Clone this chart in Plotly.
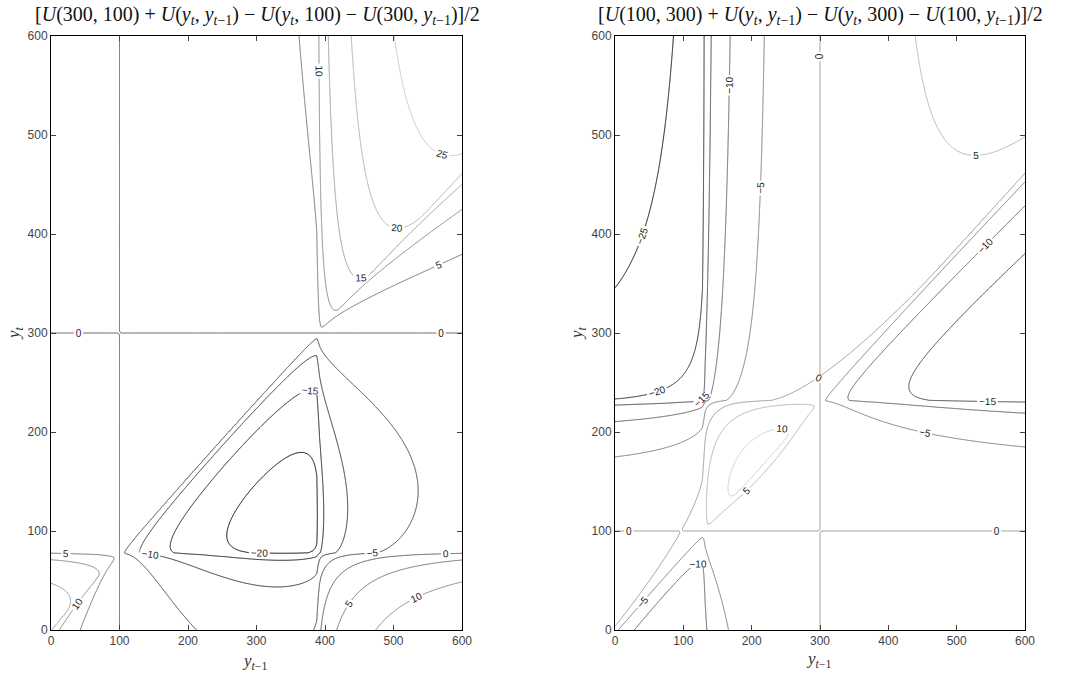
import numpy as np
import plotly.graph_objects as go

# ---- model of U(y_t, y_{t-1}) = v(y_t - HABIT*y_{t-1}) ----
HABIT = 0.77          # reference point = HABIT * y_{t-1}
GAIN_SCALE = 1.17     # v(z) = GAIN_SCALE * z**GAIN_EXP        for z >= 0
GAIN_EXP = 0.6
LOSS_SCALE = 4.4      # v(z) = -LOSS_SCALE * (-z)**LOSS_EXP    for z < 0
LOSS_EXP = 0.5

# ---- panels ----
PANEL_FIXED = [(300, 100), (100, 300)]          # (y_t, y_{t-1}) fixed pair of each panel
PANEL_LEVELS = [(-20, 25), (-25, 10)]           # first / last contour level of each panel
LEVEL_STEP = 5
TICKS = [0, 100, 200, 300, 400, 500, 600]
AXIS_RANGE = [0, 600]
GRID_N = 301
GRAY_MAX = 215

TITLES = [
    "[<i>U</i>(300, 100) + <i>U</i>(<i>y<sub>t</sub></i>, <i>y</i><sub><i>t</i>−1</sub>) − "
    "<i>U</i>(<i>y<sub>t</sub></i>, 100) − <i>U</i>(300, <i>y</i><sub><i>t</i>−1</sub>)]/2",
    "[<i>U</i>(100, 300) + <i>U</i>(<i>y<sub>t</sub></i>, <i>y</i><sub><i>t</i>−1</sub>) − "
    "<i>U</i>(<i>y<sub>t</sub></i>, 300) − <i>U</i>(100, <i>y</i><sub><i>t</i>−1</sub>)]/2",
]


def v(z):
    z = np.asarray(z, dtype=float)
    return np.where(z >= 0, GAIN_SCALE * np.abs(z) ** GAIN_EXP,
                    -LOSS_SCALE * np.abs(z) ** LOSS_EXP)


def U(y, yprev):
    return v(np.asarray(y, float) - HABIT * np.asarray(yprev, float))


def cross_diff(a, b, yt, ytm1):
    return (U(a, b) + U(yt, ytm1) - U(yt, b) - U(a, ytm1)) / 2.0


grid = np.linspace(AXIS_RANGE[0], AXIS_RANGE[1], GRID_N)
XX, YY = np.meshgrid(grid, grid)

fig = go.Figure()
for k, ((a, b), (lo, hi)) in enumerate(zip(PANEL_FIXED, PANEL_LEVELS)):
    Z = np.round(cross_diff(a, b, YY, XX), 4)
    zmin, zmax = float(Z.min()), float(Z.max())

    def gray(level):
        g = int(round(GRAY_MAX * (level - zmin) / (zmax - zmin)))
        return f"rgb({g},{g},{g})"

    suffix = "" if k == 0 else "2"
    fig.add_trace(go.Contour(
        x=grid, y=grid, z=Z,
        xaxis="x" + suffix, yaxis="y" + suffix,
        contours=dict(start=lo, end=hi, size=LEVEL_STEP, coloring="lines",
                      showlabels=True,
                      labelfont=dict(family="Liberation Sans, Arial", size=10, color="#222")),
        colorscale=[[0, gray(lo)], [1, gray(hi)]],
        line=dict(width=1, smoothing=0),
        showscale=False, hoverinfo="skip",
    ))

axis_common = dict(range=AXIS_RANGE, tickvals=TICKS, ticks="inside", ticklen=5,
                   showline=True, linecolor="black", linewidth=1, mirror="ticks",
                   showgrid=False, zeroline=False,
                   tickfont=dict(family="Liberation Sans, Arial", size=12, color="#444"))

L, R, T, B = 51, 65, 36, 44
W, H = 1090, 674
pw = W - L - R
left_dom = [0, (462 - L) / pw]
right_dom = [(615 - L) / pw, 1]

fig.update_layout(
    width=W, height=H, margin=dict(l=L, r=R, t=T, b=B),
    paper_bgcolor="white", plot_bgcolor="white", showlegend=False,
    xaxis=dict(domain=left_dom, anchor="y", **axis_common),
    yaxis=dict(domain=[0, 1], anchor="x", **axis_common),
    xaxis2=dict(domain=right_dom, anchor="y2", **axis_common),
    yaxis2=dict(domain=[0, 1], anchor="x2", **axis_common),
)

ph = H - T - B


def px_to_paper(px, py):
    return (px - L) / pw, (H - B - py) / ph


serif = "Liberation Serif, Times New Roman, serif"
annos = []
for title, cx in zip(TITLES, [257, 820]):
    x, y = px_to_paper(cx, 15)
    annos.append(dict(text=title, x=x, y=y, xref="paper", yref="paper", showarrow=False,
                      xanchor="center", yanchor="middle",
                      font=dict(family=serif, size=20, color="#111")))
for cx, cy in [(255, 662), (819, 660)]:
    x, y = px_to_paper(cx, cy)
    annos.append(dict(text="<i>y</i><sub><i>t</i>−1</sub>", x=x, y=y, xref="paper", yref="paper",
                      showarrow=False, xanchor="center", yanchor="middle",
                      font=dict(family=serif, size=17, color="#333")))
for cx, cy in [(15, 333), (578, 333)]:
    x, y = px_to_paper(cx, cy)
    annos.append(dict(text="<i>y<sub>t</sub></i>", x=x, y=y, xref="paper", yref="paper",
                      showarrow=False, xanchor="center", yanchor="middle", textangle=-90,
                      font=dict(family=serif, size=17, color="#333")))
fig.update_layout(annotations=annos)

fig.write_html("out.html")
